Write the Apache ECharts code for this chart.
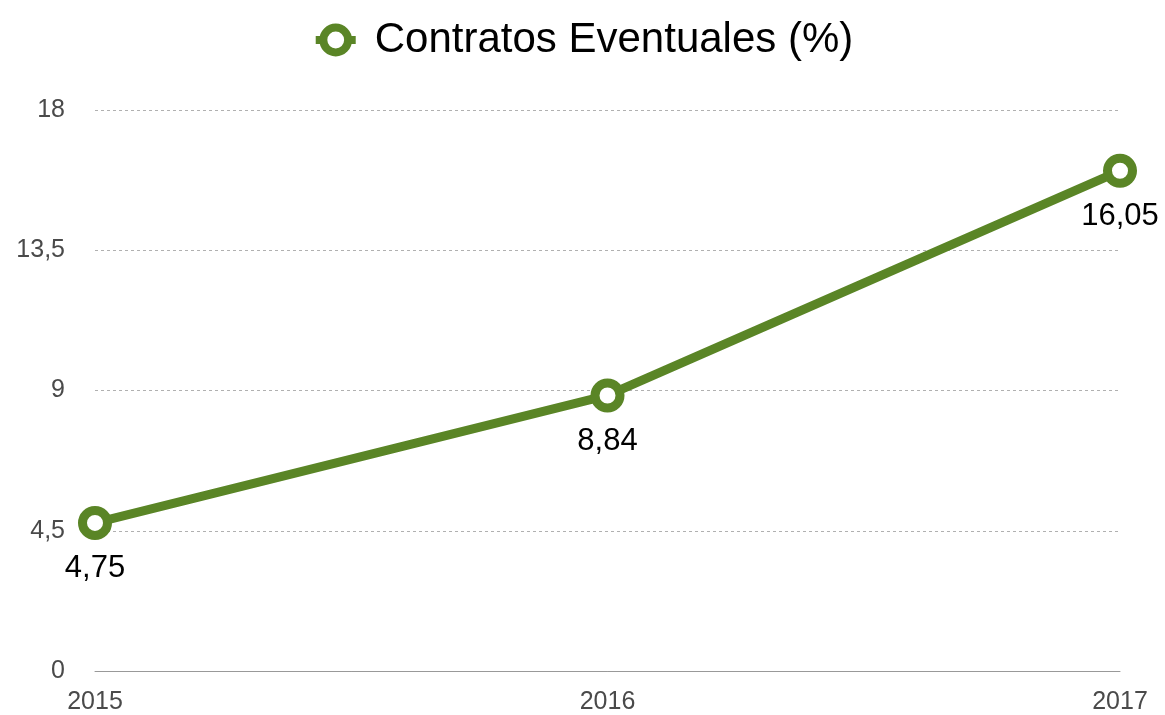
<!DOCTYPE html>
<html>
<head>
<meta charset="utf-8">
<script src="https://cdn.jsdelivr.net/npm/echarts@6/dist/echarts.min.js"></script>
<style>
  html, body { margin: 0; padding: 0; background: #fff; }
  #chart { width: 1165px; height: 715px; }
</style>
</head>
<body>
<div id="chart"></div>
<script>
const years = ["2015", "2016", "2017"];
const eventuales = [4.75, 8.84, 16.05];
const seriesName = "Contratos Eventuales (%)";

const fmt = (v) => String(v).replace(".", ",");

const myChart = echarts.init(document.getElementById("chart"));

const option = {
  backgroundColor: "#fff",
  textStyle: { fontFamily: "Liberation Sans, Helvetica, Arial, sans-serif" },
  legend: {
    top: 14,
    left: "center",
    itemWidth: 40,
    itemHeight: 31,
    itemGap: 10,
    textStyle: { fontSize: 42, color: "#000", padding: [0, 0, 0, 14] },
    lineStyle: { width: 8 },
    itemStyle: { borderWidth: 8 },
    data: [seriesName],
  },
  grid: { left: 95, right: 45, top: 110, bottom: 43 },
  xAxis: {
    type: "category",
    boundaryGap: false,
    data: years,
    axisLine: { show: true, lineStyle: { color: "#999", width: 1 } },
    axisTick: { show: false },
    axisLabel: { color: "#4a4a4a", fontSize: 25, margin: 19 },
    splitLine: { show: false },
  },
  yAxis: {
    type: "value",
    min: 0,
    max: 18,
    interval: 4.5,
    axisLine: { show: false },
    axisTick: { show: false },
    axisLabel: { color: "#4a4a4a", fontSize: 25, margin: 30, padding: [6, 0, 0, 0], formatter: fmt },
    splitLine: { lineStyle: { color: "#b0b0b0", type: [3, 3], width: 1 } },
  },
  series: [
    {
      name: seriesName,
      type: "line",
      data: eventuales,
      symbol: "circle",
      symbolSize: 25,
      lineStyle: { color: "#5a8526", width: 9 },
      itemStyle: { color: "#fff", borderColor: "#5a8526", borderWidth: 9 },
      label: {
        show: true,
        position: "bottom",
        distance: 13,
        fontSize: 31,
        color: "#000",
        formatter: (p) => fmt(p.value),
      },
      emphasis: { disabled: true },
      z: 3,
    },
  ],
  animation: false,
};

option && myChart.setOption(option);
</script>
</body>
</html>
